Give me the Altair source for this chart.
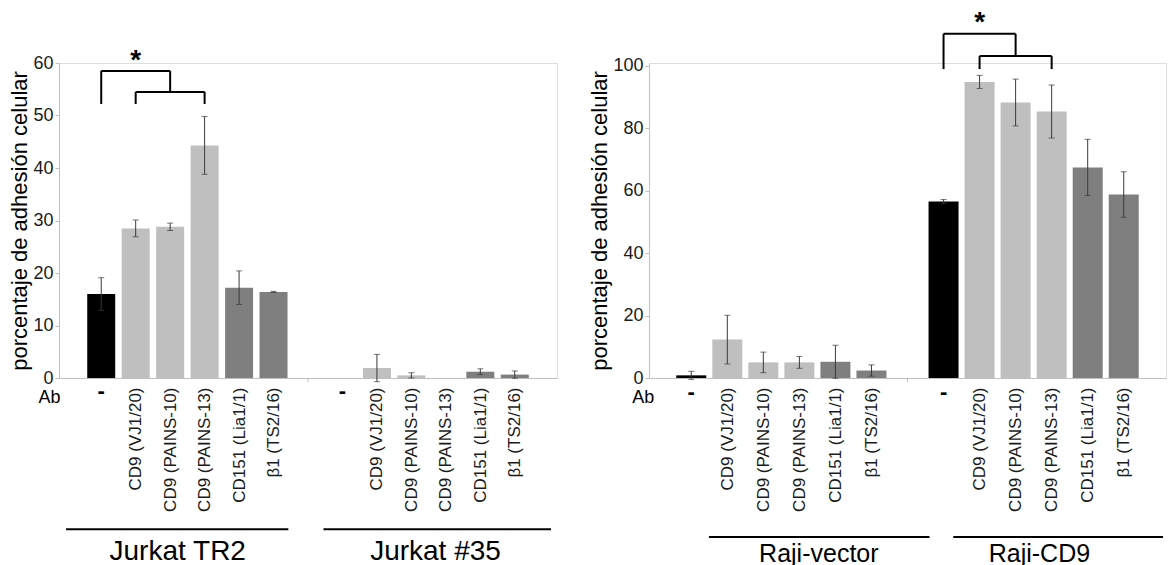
import json
import altair as alt
import pandas as pd

FONT = "Liberation Sans"

# ---------------- data ----------------
categories = ["-", "CD9 (VJ1/20)", "CD9 (PAINS-10)", "CD9 (PAINS-13)", "CD151 (Lia1/1)", "β1 (TS2/16)"]
kinds = ["sin Ab", "anti-CD9", "anti-CD9", "anti-CD9", "control", "control"]

tr2_mean = [16.0, 28.5, 28.8, 44.3, 17.2, 16.4]
tr2_err = [3.1, 1.6, 0.7, 5.5, 3.2, 0.1]
j35_mean = [0.0, 1.9, 0.5, 0.0, 1.2, 0.65]
j35_err = [0.0, 2.6, 0.5, 0.0, 0.55, 0.7]

rv_mean = [0.85, 12.3, 5.0, 5.0, 5.2, 2.4]
rv_err = [1.3, 7.8, 3.3, 1.9, 5.3, 1.8]
rc_mean = [56.6, 94.9, 88.3, 85.4, 67.5, 58.8]
rc_err = [0.6, 2.1, 7.5, 8.5, 9.0, 7.3]

left_groups = ["Jurkat TR2", "Jurkat #35"]
right_groups = ["Raji-vector", "Raji-CD9"]
left_ticks = [0, 10, 20, 30, 40, 50, 60]
right_ticks = [0, 20, 40, 60, 80, 100]
y_title = "porcentaje de adhesión celular"


def bars_frame(series):
    rows = []
    for g, (means, errs) in enumerate(series):
        for i, cat in enumerate(categories):
            rows.append({"slot": i + 7 * g, "antibody": cat, "kind": kinds[i],
                         "mean": means[i], "err": errs[i]})
    return pd.DataFrame(rows)


label_expr = "[" + ",".join(json.dumps(c, ensure_ascii=False) for c in categories) + "][datum.value % 7]"
label_slots = [1, 2, 3, 4, 5, 8, 9, 10, 11, 12]


def panel(df, ymax, yticks, width, height, xdom, bar_size, title_pad, ann):
    xs = alt.Scale(domain=xdom, nice=False, zero=False)
    ys = alt.Scale(domain=[0, ymax], nice=False, zero=False)
    xaxis = alt.Axis(values=label_slots, labelExpr=label_expr, labelAngle=270, ticks=False,
                     labelPadding=9, title=None, grid=False, domainColor="#bfbfbf", domainWidth=1,
                     labelFontSize=17, labelColor="#1a1a1a", labelFont=FONT,
                     labelOverlap=False, labelFlush=False)
    yaxis = alt.Axis(values=yticks, title=y_title, titleFontSize=22, titleFont=FONT,
                     titleFontWeight="normal", titleColor="#000000", titlePadding=title_pad,
                     labelFontSize=18, labelFont=FONT, labelColor="#1a1a1a", labelPadding=2,
                     tickSize=4, tickColor="#bfbfbf", domainColor="#bfbfbf", grid=False)
    X = lambda f: alt.X(f, scale=xs, axis=xaxis)
    Y = lambda f: alt.Y(f, scale=ys, axis=yaxis)

    bars = alt.Chart(df).mark_bar(size=bar_size).encode(
        x=X("slot:Q"),
        y=Y("mean:Q"),
        color=alt.Color("kind:N", scale=alt.Scale(domain=["sin Ab", "anti-CD9", "control"],
                                                  range=["#000000", "#bfbfbf", "#7f7f7f"]),
                        legend=None),
    )
    eb = alt.Chart(df).transform_filter("datum.err > 0").transform_calculate(
        lo="datum.mean - datum.err", hi="datum.mean + datum.err")
    err_rule = eb.mark_rule(color="#3a3a3a", strokeWidth=1).encode(x=X("slot:Q"), y=Y("lo:Q"), y2="hi:Q")
    err_lo = eb.mark_tick(color="#3a3a3a", orient="horizontal", size=6, thickness=1).encode(
        x=X("slot:Q"), y=Y("lo:Q"))
    err_hi = eb.mark_tick(color="#3a3a3a", orient="horizontal", size=6, thickness=1).encode(
        x=X("slot:Q"), y=Y("hi:Q"))

    seg = alt.Chart(pd.DataFrame(ann["segments"])).mark_rule(color="#000000", strokeWidth=2).encode(
        x=X("x:Q"), x2="x2:Q", y=Y("y:Q"), y2="y2:Q")
    divider = alt.Chart(pd.DataFrame(ann["divider"])).mark_rule(color="#bfbfbf", strokeWidth=1).encode(
        x=X("x:Q"), y=Y("y:Q"), y2="y2:Q")
    dash = alt.Chart(pd.DataFrame(ann["dash"])).mark_text(
        fontSize=22, fontWeight="bold", baseline="middle", color="#000000", font=FONT).encode(
        x=X("x:Q"), y=Y("y:Q"), text="t:N")
    ab = alt.Chart(pd.DataFrame(ann["ab"])).mark_text(
        fontSize=18, baseline="middle", color="#000000", font=FONT).encode(
        x=X("x:Q"), y=Y("y:Q"), text="t:N")
    groups = alt.Chart(pd.DataFrame(ann["groups"])).mark_text(
        fontSize=ann["group_font"], baseline="middle", color="#000000", font=FONT).encode(
        x=X("x:Q"), y=Y("y:Q"), text="t:N")
    star = alt.Chart(pd.DataFrame(ann["star"])).mark_text(
        fontSize=28, fontWeight="bold", baseline="top", color="#000000", font=FONT).encode(
        x=X("x:Q"), y=Y("y:Q"), text="t:N")

    return alt.layer(bars, err_rule, err_lo, err_hi, seg, divider, dash, ab, groups, star).properties(
        width=width, height=height)


def bracket(a, mid, b, c, y_top, y_mid, y_foot):
    # outer leg at a, connector at mid, inner legs b..c
    return [
        {"x": a, "x2": a, "y": y_foot, "y2": y_top},
        {"x": a, "x2": mid, "y": y_top, "y2": y_top},
        {"x": mid, "x2": mid, "y": y_top, "y2": y_mid},
        {"x": b, "x2": c, "y": y_mid, "y2": y_mid},
        {"x": b, "x2": b, "y": y_mid, "y2": y_foot},
        {"x": c, "x2": c, "y": y_mid, "y2": y_foot},
    ]


left_ann = {
    "segments": bracket(0, 2, 1, 3, 58.5, 54.5, 52.2) + [
        {"x": -1.02, "x2": 5.43, "y": -28.8, "y2": -28.8},
        {"x": 6.45, "x2": 13.05, "y": -28.8, "y2": -28.8},
    ],
    "divider": [{"x": 6, "y": 0, "y2": -0.8}],
    "dash": [{"x": 0, "y": -2.5, "t": "-"}, {"x": 7, "y": -2.5, "t": "-"}],
    "ab": [{"x": -1.5, "y": -3.81, "t": "Ab"}],
    "groups": [{"x": 2.22, "y": -33.1, "t": left_groups[0]}, {"x": 9.70, "y": -33.1, "t": left_groups[1]}],
    "group_font": 28,
    "star": [{"x": 1.0, "y": 63.0, "t": "*"}],
}

right_ann = {
    "segments": bracket(7, 9, 8, 10, 110.3, 103.2, 99.0) + [
        {"x": 0.49, "x2": 6.61, "y": -51.0, "y2": -51.0},
        {"x": 7.27, "x2": 13.09, "y": -51.0, "y2": -51.0},
    ],
    "divider": [{"x": 6, "y": 0, "y2": -1.3}],
    "dash": [{"x": 0, "y": -4.6, "t": "-"}, {"x": 7, "y": -4.6, "t": "-"}],
    "ab": [{"x": -1.33, "y": -6.4, "t": "Ab"}],
    "groups": [{"x": 3.54, "y": -56.5, "t": right_groups[0]}, {"x": 9.66, "y": -56.5, "t": right_groups[1]}],
    "group_font": 25,
    "star": [{"x": 8.0, "y": 118.3, "t": "*"}],
}

left = panel(bars_frame([(tr2_mean, tr2_err), (j35_mean, j35_err)]), 60, left_ticks,
             498, 315, [-1.08, 13.08], 28, 1, left_ann)
right = panel(bars_frame([(rv_mean, rv_err), (rc_mean, rc_err)]), 100.96, right_ticks,
              517, 315, [-1.034, 13.034], 30, 1, right_ann)

chart = alt.hconcat(left, right, spacing=92, bounds="flush").configure_view(strokeWidth=0).configure(
    font=FONT).properties(padding={"left": 0, "top": 0, "right": 0, "bottom": 0})

chart.save("out.html", embed_options={"renderer": "svg", "actions": False})
